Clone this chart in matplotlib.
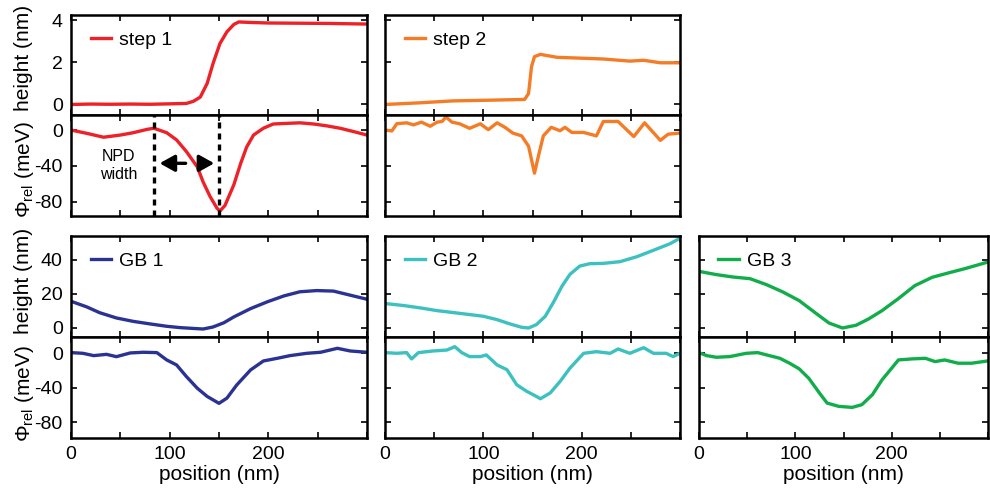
import matplotlib
matplotlib.use("Agg")
import matplotlib.pyplot as plt

plt.rcParams['font.family'] = ['Liberation Sans', 'DejaVu Sans']
plt.rcParams['mathtext.fontset'] = 'custom'
plt.rcParams['mathtext.rm'] = 'Liberation Sans'
plt.rcParams['mathtext.it'] = 'Liberation Sans:italic'
plt.rcParams['axes.unicode_minus'] = False

# --- datos (posicion en nm) ---
step1_x_h = [0, 20, 40, 60, 80, 100, 117, 124, 131, 138, 144, 151, 158, 165, 170, 180, 200, 230, 260, 300]
step1_h = [0.0, 0.02, 0.01, 0.02, 0.01, 0.03, 0.05, 0.15, 0.35, 1.0, 1.95, 2.9, 3.45, 3.8, 3.92, 3.9, 3.87, 3.86, 3.85, 3.82]
step1_x_p = [0, 16, 33, 50, 63, 77, 84, 97, 107, 117, 128, 134, 141, 148, 151, 156, 165, 172, 178, 185, 195, 205, 219, 232, 246, 260, 273, 287, 300]
step1_p = [0, -3.7, -8, -5.6, -3, 0.7, 2, -3, -11, -24, -41, -58, -74, -87, -90, -84, -61, -37, -19, -5.6, 2, 6.7, 7.4, 8, 6.7, 4.5, 1.9, -1.9, -5.6]

step2_x_h = [0, 36, 69, 103, 142, 146, 149, 152, 158, 175, 205, 222, 249, 263, 280, 300]
step2_h = [0.0, 0.08, 0.17, 0.2, 0.24, 0.52, 1.8, 2.27, 2.38, 2.24, 2.19, 2.16, 2.06, 2.1, 1.98, 1.98]
step2_x_p = [0, 7, 12, 22, 29, 37, 46, 53, 58, 62, 68, 76, 86, 97, 105, 114, 122, 130, 139, 146, 152, 156, 161, 169, 178, 183, 190, 202, 215, 222, 237, 253, 264, 280, 288, 300]
step2_p = [0, -1, 7, 8, 5.7, 8.8, 4.2, 8.8, 9.5, 14.5, 8.8, 6.9, 1.9, 6.9, 0.4, 8, 3, -3.4, -6.5, -18, -48, -29, -6.5, 3, -0.8, 3, -2.7, -2.7, -6.5, 9.5, 9.5, -7.3, 8, -11.5, -4.6, -3.4]

gb1_x_h = [0, 16, 29, 46, 63, 80, 97, 111, 125, 134, 144, 155, 165, 182, 199, 216, 232, 249, 266, 283, 300]
gb1_h = [15.7, 12.4, 9, 5.9, 3.9, 2.4, 1, 0.2, -0.3, -0.6, 0.6, 3.1, 6.5, 11.4, 15.4, 18.9, 21.3, 22, 21.7, 19.3, 16.9]
gb1_x_p = [0, 12, 23, 36, 46, 60, 73, 87, 97, 107, 117, 128, 138, 150, 158, 168, 182, 195, 209, 222, 239, 253, 270, 283, 300]
gb1_p = [0.8, 0, -2.7, -1.2, -3.9, 0.4, 1.2, 0.8, -7.7, -13.5, -27, -40.5, -50, -58, -52, -36.7, -19.3, -8.9, -5.8, -2.7, 0, 1.2, 5.8, 2.7, 1.2]

gb2_x_h = [0, 19, 36, 53, 69, 86, 100, 114, 127, 139, 146, 154, 163, 171, 180, 188, 198, 208, 222, 239, 256, 273, 290, 300]
gb2_h = [14.4, 13.2, 11.8, 10.2, 9.1, 7.9, 6.9, 4.9, 2.4, 0.4, 0, 2, 6.9, 14.8, 24.6, 31.5, 36.4, 37.8, 38, 39, 41.9, 45.7, 49.6, 52.8]
gb2_x_p = [0, 12, 22, 27, 34, 49, 63, 71, 78, 86, 97, 103, 114, 124, 134, 144, 154, 158, 168, 178, 188, 202, 215, 229, 237, 249, 263, 273, 286, 293, 300]
gb2_p = [0.8, 0, 0.8, -6.5, 0.8, 2.7, 3.8, 7.7, 0.8, -3.8, -3.8, -1.9, -13.5, -19, -36.5, -44, -50, -52.7, -46, -32.7, -17.3, 0, 1.9, 0, 5, 0, 6.5, 0, 0, -3.8, 0]

gb3_x_h = [0, 18, 35, 53, 70, 87, 104, 121, 135, 149, 163, 176, 190, 207, 224, 242, 259, 276, 300]
gb3_h = [33.3, 31.4, 30, 29, 25.5, 21.2, 16.1, 8.8, 2.9, 0, 1.6, 5.3, 10.2, 17.3, 24.9, 29.8, 32.4, 34.9, 38.8]
gb3_x_p = [0, 8, 18, 32, 49, 61, 73, 84, 94, 104, 114, 125, 133, 145, 159, 169, 180, 190, 200, 207, 221, 235, 245, 255, 269, 283, 300]
gb3_p = [0.8, -2.7, -4.6, -3.8, 0, 0.8, -2.7, -5.8, -11.5, -18, -29, -46, -57.7, -61.5, -62.7, -59.6, -48, -30.8, -17.3, -7.7, -6.5, -5.8, -9.6, -7.7, -11.5, -11.5, -8.8]

paneles = [
    # (nombre, color, x_h, h, x_p, p, columna, fila)
    ("step 1", "#ec2228", step1_x_h, step1_h, step1_x_p, step1_p, 0, 0),
    ("step 2", "#f47c27", step2_x_h, step2_h, step2_x_p, step2_p, 1, 0),
    ("GB 1", "#2b3392", gb1_x_h, gb1_h, gb1_x_p, gb1_p, 0, 1),
    ("GB 2", "#3cc1c0", gb2_x_h, gb2_h, gb2_x_p, gb2_p, 1, 1),
    ("GB 3", "#12ad4b", gb3_x_h, gb3_h, gb3_x_p, gb3_p, 2, 1),
]

W, H = 990, 494
columnas = [(71, 367), (385, 680), (699, 988)]
filas = [(15, 115, 216), (236, 337, 438)]
# centro vertical de las etiquetas y (fraccion del eje) por fila
pos_etiquetas = [(0.575, 0.465), (0.555, 0.445)]


def rect(l, t, r, b):
    return [l / W, 1 - b / H, (r - l) / W, (b - t) / H]


def estilo(ax, yticks, ylim, ylabels):
    ax.set_xlim(0, 300)
    ax.set_ylim(*ylim)
    ax.set_xticks(range(0, 301, 50))
    ax.set_yticks(yticks)
    ax.tick_params(direction='in', length=4, width=1.2, top=True, right=True,
                   labelsize=14, pad=6)
    for s in ax.spines.values():
        s.set_linewidth(1.8)
    if not ylabels:
        ax.set_yticklabels([])


fig = plt.figure(figsize=(9.9, 4.94), dpi=100)

for nombre, color, xh, hh, xp, pp, c, f in paneles:
    l, r = columnas[c]
    t, m, b = filas[f]
    ax_h = fig.add_axes(rect(l, t, r, m))
    ax_p = fig.add_axes(rect(l, m, r, b))

    ax_h.plot(xh, hh, color=color, lw=2.4, label=nombre)
    ax_p.plot(xp, pp, color=color, lw=2.4)

    if f == 0:
        estilo(ax_h, [0, 2, 4], (-0.5, 4.25), c == 0)
        estilo(ax_p, [-80, -40, 0], (-95.6, 16.7), c == 0)
    else:
        estilo(ax_h, [0, 20, 40], (-5.3, 54.1), c == 0)
        estilo(ax_p, [-80, -40, 0], (-98.2, 18.9), c == 0)

    ax_h.set_xticklabels([])
    if f == 0:
        ax_p.set_xticklabels([])
    else:
        ax_p.set_xticklabels(['0', '', '100', '', '200', '', ''])
        ax_p.set_xlabel('position (nm)', fontsize=15, labelpad=1)

    if c == 0:
        ax_h.set_ylabel('height (nm)', fontsize=15)
        ax_p.set_ylabel(r'Φ$_{\rm rel}$ (meV)', fontsize=15)
        ax_h.yaxis.set_label_coords(-0.128, pos_etiquetas[f][0])
        ax_p.yaxis.set_label_coords(-0.118, pos_etiquetas[f][1])

    ax_h.legend(loc='upper left', frameon=False, fontsize=14, handlelength=1.05,
                handletextpad=0.4, borderaxespad=0.3, bbox_to_anchor=(0.02, 0.97))

# anotacion NPD width en step 1
ax1 = fig.axes[1]
for xv in [84, 150]:
    ax1.axvline(xv, color='black', lw=2.4, ls=(0, (1.8, 1.5)))
ax1.annotate('', xy=(87, -37), xytext=(119, -37),
             arrowprops=dict(arrowstyle='-|>,head_length=0.9,head_width=0.5', color='black', lw=2.4))
ax1.annotate('', xy=(148, -37), xytext=(132, -37),
             arrowprops=dict(arrowstyle='-|>,head_length=0.9,head_width=0.5', color='black', lw=2.4))
ax1.text(48, -40, 'NPD\nwidth', ha='center', va='center', fontsize=11.5, linespacing=1.25)

fig.savefig('out.png', dpi=100)
